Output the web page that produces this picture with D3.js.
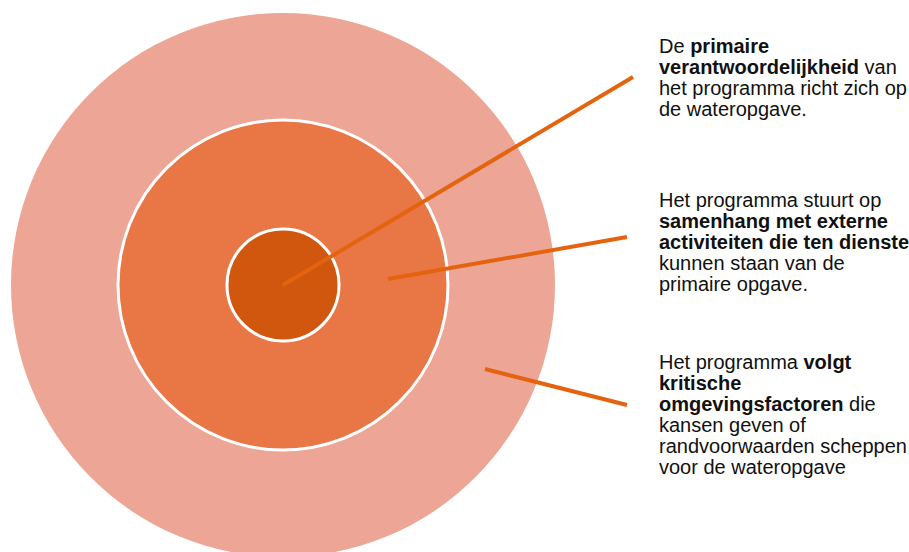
<!DOCTYPE html>
<html>
  <head>
    <meta charset="utf-8">
    <title>Programma scope</title>
    <style>
      body { margin: 0; background: #fff; }
      svg { display: block; }
      .label { font-family: "Liberation Sans", Arial, sans-serif; font-size: 20px; fill: #111; }
      .ring { stroke: #fff; stroke-width: 3; }
      .leader { stroke: #e4630f; stroke-width: 4; }
    </style>
  </head>
  <body>
    <div id="chart"></div>
    <script src="https://d3js.org/d3.v7.min.js"></script>
    <script>
    // rings, from outside in
    var rings = ['omgeving', 'samenhang', 'primair']
    var ringColors = ['#eda696', '#e97645', '#d0570d']

    // callout texts, one list of [text, bold] pieces per line
    var callouts = [
      [[['De ', 0], ['primaire', 1]],
       [['verantwoordelijkheid', 1], [' van', 0]],
       [['het programma richt zich op', 0]],
       [['de wateropgave.', 0]]],
      [[['Het programma stuurt op', 0]],
       [['samenhang met externe', 1]],
       [['activiteiten die ten dienste', 1]],
       [['kunnen staan van de', 0]],
       [['primaire opgave.', 0]]],
      [[['Het programma ', 0], ['volgt', 1]],
       [['kritische', 1]],
       [['omgevingsfactoren', 1], [' die', 0]],
       [['kansen geven of', 0]],
       [['randvoorwaarden scheppen', 0]],
       [['voor de wateropgave', 0]]]
    ]
    var calloutRing = ['primair', 'samenhang', 'omgeving']

    var width = 909,
        height = 552,
        cx = 283, cy = 285

    var radius = d3.scaleOrdinal().domain(rings).range([272, 165, 56])
    var color = d3.scaleOrdinal().domain(rings).range(ringColors)

    var svg = d3.select('#chart')
      .append('svg')
      .attr('width', width)
      .attr('height', height)

    svg.selectAll('circle.ring')
      .data(rings)
      .enter()
      .append('circle')
      .attr('class', 'ring')
      .attr('cx', cx)
      .attr('cy', cy)
      .attr('r', function(d) { return radius(d) })
      .attr('fill', function(d) { return color(d) })
      .style('stroke', function(d, i) { return i == 0 ? 'none' : '#fff' })

    // leader lines: start inside its ring, end at its text block
    var textX = 659,
        firstBase = [53, 207, 369],
        lineH = 21
    var leaderStart = [[cx, cy], [388, 279], [485, 369]]
    var leaderEnd = [[633, 77], [627, 237], [627, 405]]

    svg.selectAll('line.leader')
      .data(calloutRing)
      .enter()
      .append('line')
      .attr('class', 'leader')
      .attr('x1', function(d, i) { return leaderStart[i][0] })
      .attr('y1', function(d, i) { return leaderStart[i][1] })
      .attr('x2', function(d, i) { return leaderEnd[i][0] })
      .attr('y2', function(d, i) { return leaderEnd[i][1] })

    var blocks = svg.selectAll('text.label')
      .data(callouts)
      .enter()
      .append('text')
      .attr('class', 'label')

    blocks.each(function(lines, b) {
      var t = d3.select(this)
      lines.forEach(function(line, li) {
        line.forEach(function(piece, pi) {
          var ts = t.append('tspan')
            .text(piece[0])
            .attr('font-weight', piece[1] ? 'bold' : 'normal')
            .attr('xml:space', 'preserve')
          if (pi == 0) ts.attr('x', textX).attr('y', firstBase[b] + li * lineH)
        })
      })
    })
    </script>
  </body>
</html>
